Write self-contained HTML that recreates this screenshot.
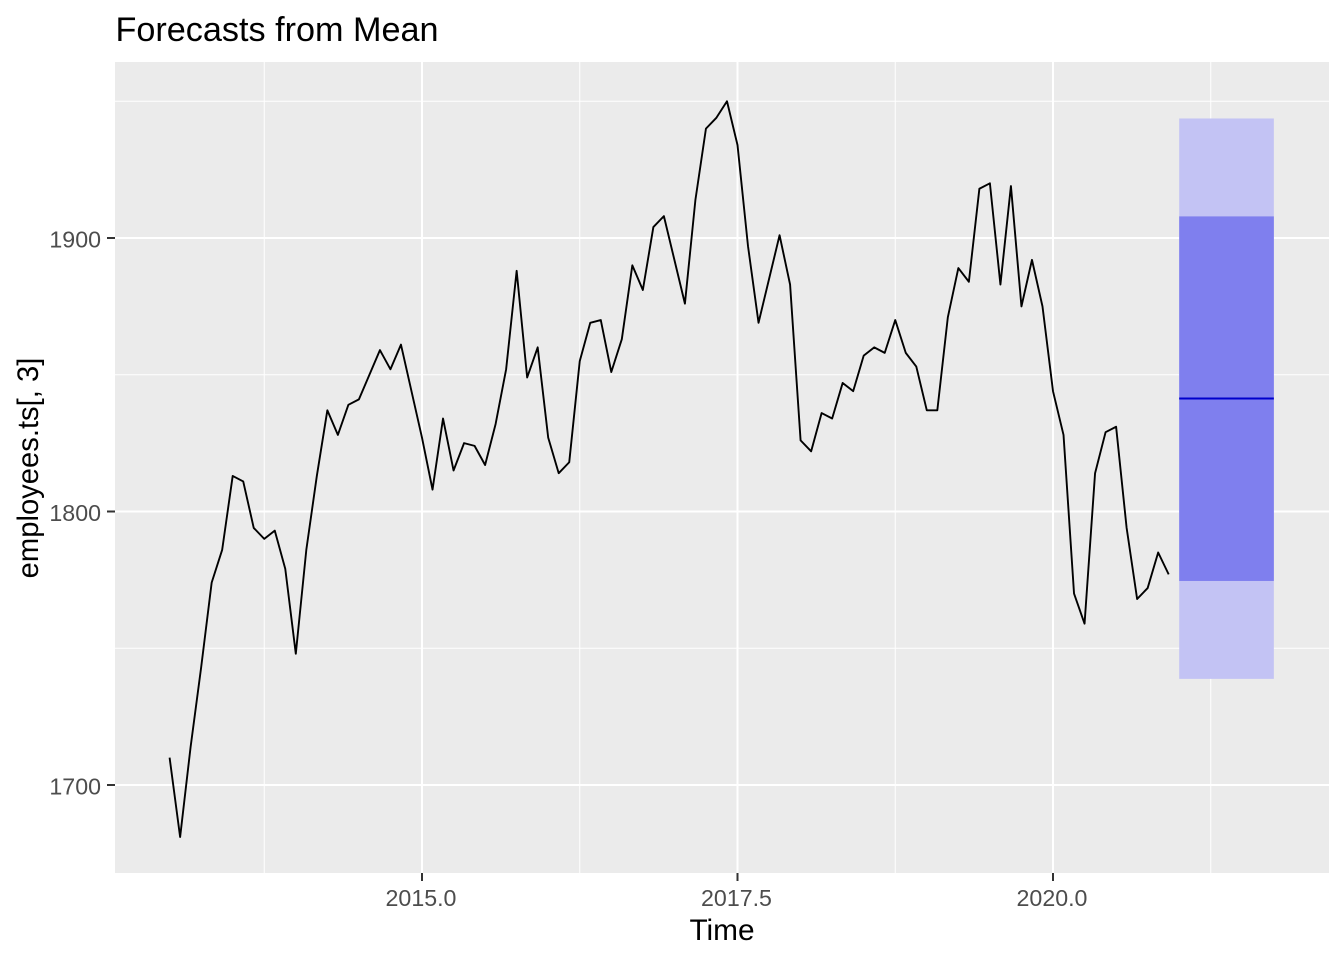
<!DOCTYPE html>
<html lang="en">
<head>
<meta charset="utf-8">
<title>Forecasts from Mean</title>
<style>
html,body{margin:0;padding:0;background:#fff;width:1344px;height:960px;overflow:hidden}
svg{display:block}
text{font-family:"Liberation Sans",Arial,sans-serif}
</style>
</head>
<body>
<svg id="chart" xmlns="http://www.w3.org/2000/svg" width="1344" height="960" viewBox="0 0 1344 960">
  <rect x="0" y="0" width="1344" height="960" fill="#ffffff"/>
  <text x="115.5" y="41" font-size="34.2" fill="#000000">Forecasts from Mean</text>
  <rect x="115" y="62" width="1214" height="811" fill="#ebebeb"/>
  <g id="grid"></g>
  <g id="marks"></g>
  <g id="axes"></g>
  <text x="722" y="940" font-size="29.8" fill="#000000" text-anchor="middle">Time</text>
  <text transform="translate(38,468) rotate(-90)" font-size="29.2" fill="#000000" text-anchor="middle">employees.ts[, 3]</text>
</svg>
<script>
const startYear = 2013;
const monthsPerYear = 12;
const employees = [
  1710, 1681, 1714, 1743, 1774, 1786, 1813, 1811, 1794, 1790, 1793, 1779,
  1748, 1786, 1813, 1837, 1828, 1839, 1841, 1850, 1859, 1852, 1861, 1844,
  1827, 1808, 1834, 1815, 1825, 1824, 1817, 1832, 1852, 1888, 1849, 1860,
  1827, 1814, 1818, 1855, 1869, 1870, 1851, 1863, 1890, 1881, 1904, 1908,
  1892, 1876, 1914, 1940, 1944, 1950, 1934, 1897, 1869, 1885, 1901, 1883,
  1826, 1822, 1836, 1834, 1847, 1844, 1857, 1860, 1858, 1870, 1858, 1853,
  1837, 1837, 1871, 1889, 1884, 1918, 1920, 1883, 1919, 1875, 1892, 1875,
  1844, 1828, 1770, 1759, 1814, 1829, 1831, 1794, 1768, 1772, 1785, 1777
];
const forecastStart = 2021;
const forecastEnd = 2021.75;
const forecastMean = 1841.3;
const lower80 = 1774.6;
const upper80 = 1907.9;
const lower95 = 1738.8;
const upper95 = 1943.7;
const xMajorTicks = [2015, 2017.5, 2020];
const xMinorTicks = [2013.75, 2016.25, 2018.75, 2021.25];
const yMajorTicks = [1700, 1800, 1900];
const yMinorTicks = [1750, 1850, 1950];
const xTickLabels = ["2015.0", "2017.5", "2020.0"];
const yTickLabels = ["1700", "1800", "1900"];

const panelLeft = 115, panelRight = 1329, panelTop = 62, panelBottom = 873;
const NS = "http://www.w3.org/2000/svg";
function xScale(v) { return 422 + (v - 2015) * 126.2; }
function yScale(v) { return 238 + (1900 - v) * 2.735; }
function make(tag, attrs, parent) {
  const el = document.createElementNS(NS, tag);
  for (const k in attrs) el.setAttribute(k, attrs[k]);
  parent.appendChild(el);
  return el;
}
const grid = document.getElementById("grid");
const marks = document.getElementById("marks");
const axes = document.getElementById("axes");

yMinorTicks.forEach(function (v) {
  const el = make("line", {x1: panelLeft, x2: panelRight, y1: yScale(v), y2: yScale(v), stroke: "#ffffff", "stroke-width": 1}, grid);
  
  
});
xMinorTicks.forEach(function (v) {
  const el = make("line", {x1: xScale(v), x2: xScale(v), y1: panelTop, y2: panelBottom, stroke: "#ffffff", "stroke-width": 1}, grid);
  
  
});
yMajorTicks.forEach(function (v) {
  const el = make("line", {x1: panelLeft, x2: panelRight, y1: yScale(v), y2: yScale(v), stroke: "#ffffff", "stroke-width": 2}, grid);
  
  
});
xMajorTicks.forEach(function (v) {
  const el = make("line", {x1: xScale(v), x2: xScale(v), y1: panelTop, y2: panelBottom, stroke: "#ffffff", "stroke-width": 2}, grid);
  
  
});

const points = employees.map(function (v, i) {
  return xScale(startYear + i / monthsPerYear).toFixed(2) + "," + yScale(v).toFixed(2);
}).join(" ");
const seriesLine = make("polyline", {points: points, fill: "none", stroke: "#000000", "stroke-width": 1.9, "stroke-linejoin": "round"}, marks);



const band95 = make("rect", {x: xScale(forecastStart), width: xScale(forecastEnd) - xScale(forecastStart), y: yScale(upper95), height: yScale(lower95) - yScale(upper95), fill: "#c3c3f4"}, marks);



const band80 = make("rect", {x: xScale(forecastStart), width: xScale(forecastEnd) - xScale(forecastStart), y: yScale(upper80), height: yScale(lower80) - yScale(upper80), fill: "#7f7fee"}, marks);



const meanLine = make("line", {x1: xScale(forecastStart), x2: xScale(forecastEnd), y1: yScale(forecastMean), y2: yScale(forecastMean), stroke: "#0000cc", "stroke-width": 2}, marks);



xMajorTicks.forEach(function (v, i) {
  const tick = make("line", {x1: xScale(v), x2: xScale(v), y1: panelBottom, y2: panelBottom + 8, stroke: "#333333", "stroke-width": 2}, axes);
  
  
  const label = make("text", {x: xScale(v) - 1, y: 906, "font-size": 23.2, fill: "#4d4d4d", "text-anchor": "middle"}, axes);
  
  
  label.textContent = xTickLabels[i];
});
yMajorTicks.forEach(function (v, i) {
  const tick = make("line", {x1: panelLeft - 8, x2: panelLeft, y1: yScale(v), y2: yScale(v), stroke: "#333333", "stroke-width": 2}, axes);
  
  
  const label = make("text", {x: 101, y: yScale(v) + 9.5, "font-size": 23.2, fill: "#4d4d4d", "text-anchor": "end"}, axes);
  
  
  label.textContent = yTickLabels[i];
});
</script>
</body>
</html>
